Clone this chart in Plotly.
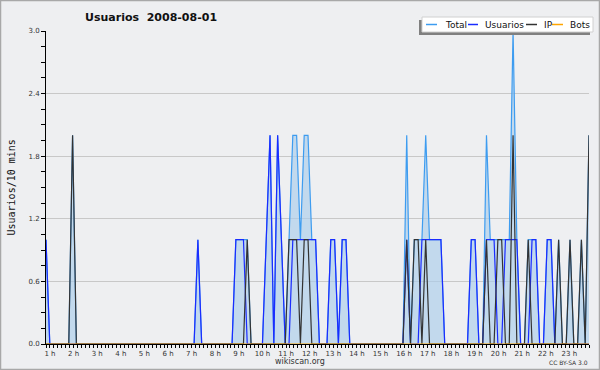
import plotly.graph_objects as go

# 10-minute bins (144 per day)
total = [1,0,0,0,0,0,0,2,0,0,0,0,
         0,0,0,0,0,0,0,0,0,0,0,0,
         0,0,0,0,0,0,0,0,0,0,0,0,
         0,0,0,0,1,0,0,0,0,0,0,0,
         0,0,1,1,1,1,0,0,0,0,1,2,
         0,2,1,0,1,2,2,1,2,2,1,1,
         0,0,0,1,1,0,1,1,0,0,0,0,
         0,0,0,0,0,0,0,0,0,0,0,2,
         0,1,1,1,2,1,1,1,1,0,0,0,
         0,0,0,0,1,1,0,0,2,1,1,1,
         1,1,1,3,1,0,0,1,1,1,0,0,
         1,1,0,1,0,0,1,0,0,1,0,2]
usuarios = [1,0,0,0,0,0,0,0,0,0,0,0,
            0,0,0,0,0,0,0,0,0,0,0,0,
            0,0,0,0,0,0,0,0,0,0,0,0,
            0,0,0,0,1,0,0,0,0,0,0,0,
            0,0,1,1,1,0,0,0,0,0,1,2,
            0,2,1,0,0,1,1,1,1,1,1,1,
            0,0,0,1,1,0,1,1,0,0,0,0,
            0,0,0,0,0,0,0,0,0,0,0,1,
            0,0,0,1,1,1,1,1,1,0,0,0,
            0,0,0,0,1,1,0,0,1,1,1,0,
            0,1,1,1,1,0,0,0,1,1,0,0,
            1,1,0,0,0,0,0,0,0,0,0,0]
ip = [0,0,0,0,0,0,0,2,0,0,0,0,
      0,0,0,0,0,0,0,0,0,0,0,0,
      0,0,0,0,0,0,0,0,0,0,0,0,
      0,0,0,0,0,0,0,0,0,0,0,0,
      0,0,0,0,0,1,0,0,0,0,0,0,
      0,0,0,0,1,1,1,0,1,1,0,0,
      0,0,0,0,0,0,0,0,0,0,0,0,
      0,0,0,0,0,0,0,0,0,0,0,1,
      0,1,1,0,1,0,0,0,0,0,0,0,
      0,0,0,0,0,0,0,0,1,0,0,1,
      1,0,0,2,0,0,0,1,0,0,0,0,
      0,0,0,1,0,0,1,0,0,1,0,2]
bots = [0] * 144

hour_labels = [f"{h} h" for h in range(1, 24)]
y_ticks = [0.0, 0.6, 1.2, 1.8, 2.4, 3.0]

N = len(total)
xs = list(range(N))
xmax = N - 1

# pixel geometry helpers (plot area 46..589 x 31..344)
L, R, T, B = 46, 589, 31, 344
def px(x):
    return (x - L) / (R - L)
def py(y):
    return (B - y) / (B - T)

BG = "#eeeff1"
C_TOTAL = "#3d9cf0"
C_USER = "#1a2cff"
C_IP = "#333333"
C_BOTS = "#ffa500"

fig = go.Figure()
fig.add_trace(go.Scatter(x=xs, y=total, mode="lines", name="Total",
                         line=dict(color=C_TOTAL, width=1.2),
                         fill="tozeroy", fillcolor="rgba(170,205,235,0.65)"))
fig.add_trace(go.Scatter(x=xs, y=usuarios, mode="lines", name="Usuarios",
                         line=dict(color=C_USER, width=1.2)))
fig.add_trace(go.Scatter(x=xs, y=ip, mode="lines", name="IP",
                         line=dict(color=C_IP, width=1.2)))
fig.add_trace(go.Scatter(x=xs, y=bots, mode="lines", name="Bots",
                         line=dict(color=C_BOTS, width=1)))

tick_font = dict(family="DejaVu Sans", size=7, color="#333333")

fig.update_layout(
    width=600, height=370,
    margin=dict(l=L, r=600 - R, t=T, b=370 - B),
    paper_bgcolor=BG, plot_bgcolor=BG,
    showlegend=False,
    xaxis=dict(range=[0, xmax], showgrid=False, zeroline=False,
               showline=True, linecolor="black", linewidth=1,
               tickmode="array",
               tickvals=[k * xmax / 23 for k in range(23)],
               ticktext=hour_labels,
               ticks="outside", ticklen=3, tickcolor="black",
               ticklabelshift=4,
               tickfont=tick_font,
               minor=dict(tickmode="linear", tick0=0, dtick=xmax / 138,
                          ticks="outside", ticklen=3, tickcolor="black",
                          showgrid=False)),
    yaxis=dict(range=[0, 3.0], zeroline=False,
               showline=True, linecolor="black", linewidth=1,
               tickmode="array", tickvals=y_ticks,
               ticktext=[f"{v:.1f}" for v in y_ticks],
               ticks="outside", ticklen=4, tickcolor="black",
               tickfont=tick_font,
               showgrid=True, gridcolor="#c8c8c8", gridwidth=1,
               minor=dict(tickmode="linear", tick0=0, dtick=0.15,
                          ticks="outside", ticklen=4, tickcolor="black",
                          showgrid=False)),
)

shapes = []
annotations = []

# outer frame
shapes.append(dict(type="rect", xref="paper", yref="paper",
                   x0=px(0.5), x1=px(599.5), y0=py(369.5), y1=py(0.5),
                   line=dict(color="#a8a8a8", width=1.5), layer="below"))

# legend box with shadow
shapes.append(dict(type="rect", xref="paper", yref="paper",
                   x0=px(419), x1=px(590), y0=py(35), y1=py(20),
                   fillcolor="#808080", line=dict(width=0)))
shapes.append(dict(type="rect", xref="paper", yref="paper",
                   x0=px(422), x1=px(593), y0=py(32), y1=py(17),
                   fillcolor="#ffffff", line=dict(color="#d0d0d0", width=1)))

legend_items = [("Total", C_TOTAL, 426, 437, 443),
                ("Usuarios", C_USER, 468, 478, 483),
                ("IP", C_IP, 526, 537, 542),
                ("Bots", C_BOTS, 552, 563, 568)]
for name, col, lx0, lx1, tx in legend_items:
    shapes.append(dict(type="line", xref="paper", yref="paper",
                       x0=px(lx0), x1=px(lx1), y0=py(24.5), y1=py(24.5),
                       line=dict(color=col, width=1.5)))
    annotations.append(dict(text=name, xref="paper", yref="paper",
                            x=px(tx), y=py(24.5), xanchor="left", yanchor="middle",
                            showarrow=False,
                            font=dict(family="DejaVu Sans", size=9, color="#111111")))

# title
annotations.append(dict(text="Usuarios  2008-08-01", xref="paper", yref="paper",
                        x=px(150.5), y=py(17), xanchor="center", yanchor="middle",
                        showarrow=False,
                        font=dict(family="DejaVu Sans", size=11, color="#111111",
                                  weight="bold")))
# y-axis title
annotations.append(dict(text="Usuarios/10 mins", xref="paper", yref="paper",
                        x=px(10.5), y=py(188), xanchor="center", yanchor="middle",
                        textangle=-90, showarrow=False,
                        font=dict(family="DejaVu Sans Mono", size=10, color="#111111")))
# footer
annotations.append(dict(text="wikiscan.org", xref="paper", yref="paper",
                        x=px(300), y=py(361.5), xanchor="center", yanchor="middle",
                        showarrow=False,
                        font=dict(family="DejaVu Sans", size=8, color="#333333")))
annotations.append(dict(text="CC BY-SA 3.0", xref="paper", yref="paper",
                        x=px(590), y=py(362), xanchor="right", yanchor="middle",
                        showarrow=False,
                        font=dict(family="DejaVu Sans", size=6, color="#333333")))

fig.update_layout(shapes=shapes, annotations=annotations)
fig.write_html("out.html")
